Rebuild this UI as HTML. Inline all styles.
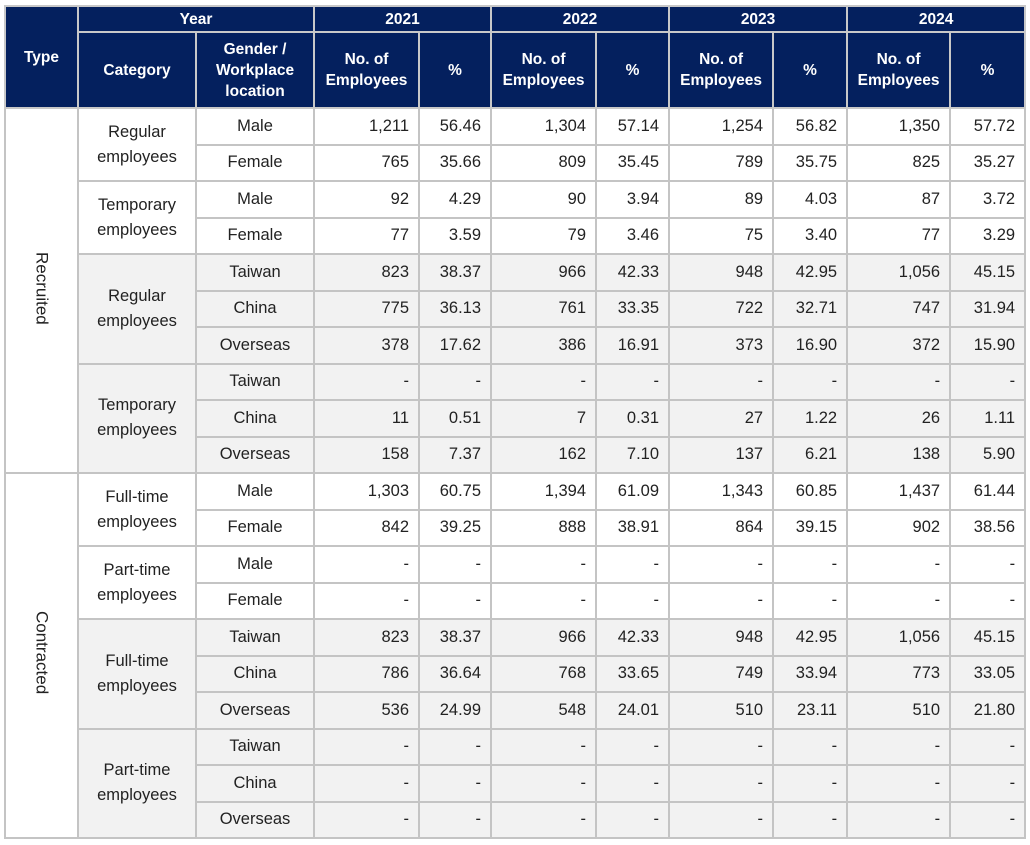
<!DOCTYPE html>
<html><head><meta charset="utf-8"><style>
html,body{margin:0;padding:0;background:#fff;width:1030px;height:845px;overflow:hidden}
table{position:absolute;left:4px;top:5px;border-collapse:collapse;table-layout:fixed;width:1020px;font-family:"Liberation Sans",sans-serif;font-size:16.5px;color:#222}
td,th{border:2px solid #c4c4c4;padding:0;overflow:hidden}
th{background:#04205e;color:#fff;font-weight:bold;font-size:15.5px;line-height:21px;border-color:#c8c8c8}
tr.b{height:36.5px}
td{text-align:center}
td.n{text-align:right;padding-right:9px}
.g{background:#f2f2f2}
.t{line-height:25px}
.v{writing-mode:vertical-rl;font-size:17px}
</style></head><body>
<table>
<colgroup><col style="width:73px"><col style="width:118px"><col style="width:118px"><col style="width:105px"><col style="width:72px"><col style="width:105px"><col style="width:73px"><col style="width:104px"><col style="width:74px"><col style="width:103px"><col style="width:75px"></colgroup>
<tr style="height:26px"><th rowspan="2">Type</th><th colspan="2">Year</th><th colspan="2">2021</th><th colspan="2">2022</th><th colspan="2">2023</th><th colspan="2">2024</th></tr>
<tr style="height:76px"><th>Category</th><th>Gender /<br>Workplace<br>location</th><th>No. of<br>Employees</th><th>%</th><th>No. of<br>Employees</th><th>%</th><th>No. of<br>Employees</th><th>%</th><th>No. of<br>Employees</th><th>%</th></tr>
<tr class="b"><td rowspan="10"><span class="v">Recruited</span></td><td rowspan="2" class="t">Regular<br>employees</td><td>Male</td><td class="n">1,211</td><td class="n">56.46</td><td class="n">1,304</td><td class="n">57.14</td><td class="n">1,254</td><td class="n">56.82</td><td class="n">1,350</td><td class="n">57.72</td></tr>
<tr class="b"><td>Female</td><td class="n">765</td><td class="n">35.66</td><td class="n">809</td><td class="n">35.45</td><td class="n">789</td><td class="n">35.75</td><td class="n">825</td><td class="n">35.27</td></tr>
<tr class="b"><td rowspan="2" class="t">Temporary<br>employees</td><td>Male</td><td class="n">92</td><td class="n">4.29</td><td class="n">90</td><td class="n">3.94</td><td class="n">89</td><td class="n">4.03</td><td class="n">87</td><td class="n">3.72</td></tr>
<tr class="b"><td>Female</td><td class="n">77</td><td class="n">3.59</td><td class="n">79</td><td class="n">3.46</td><td class="n">75</td><td class="n">3.40</td><td class="n">77</td><td class="n">3.29</td></tr>
<tr class="b g"><td rowspan="3" class="t">Regular<br>employees</td><td>Taiwan</td><td class="n">823</td><td class="n">38.37</td><td class="n">966</td><td class="n">42.33</td><td class="n">948</td><td class="n">42.95</td><td class="n">1,056</td><td class="n">45.15</td></tr>
<tr class="b g"><td>China</td><td class="n">775</td><td class="n">36.13</td><td class="n">761</td><td class="n">33.35</td><td class="n">722</td><td class="n">32.71</td><td class="n">747</td><td class="n">31.94</td></tr>
<tr class="b g"><td>Overseas</td><td class="n">378</td><td class="n">17.62</td><td class="n">386</td><td class="n">16.91</td><td class="n">373</td><td class="n">16.90</td><td class="n">372</td><td class="n">15.90</td></tr>
<tr class="b g"><td rowspan="3" class="t">Temporary<br>employees</td><td>Taiwan</td><td class="n">-</td><td class="n">-</td><td class="n">-</td><td class="n">-</td><td class="n">-</td><td class="n">-</td><td class="n">-</td><td class="n">-</td></tr>
<tr class="b g"><td>China</td><td class="n">11</td><td class="n">0.51</td><td class="n">7</td><td class="n">0.31</td><td class="n">27</td><td class="n">1.22</td><td class="n">26</td><td class="n">1.11</td></tr>
<tr class="b g"><td>Overseas</td><td class="n">158</td><td class="n">7.37</td><td class="n">162</td><td class="n">7.10</td><td class="n">137</td><td class="n">6.21</td><td class="n">138</td><td class="n">5.90</td></tr>
<tr class="b"><td rowspan="10" style="background:#fff"><span class="v">Contracted</span></td><td rowspan="2" class="t">Full-time<br>employees</td><td>Male</td><td class="n">1,303</td><td class="n">60.75</td><td class="n">1,394</td><td class="n">61.09</td><td class="n">1,343</td><td class="n">60.85</td><td class="n">1,437</td><td class="n">61.44</td></tr>
<tr class="b"><td>Female</td><td class="n">842</td><td class="n">39.25</td><td class="n">888</td><td class="n">38.91</td><td class="n">864</td><td class="n">39.15</td><td class="n">902</td><td class="n">38.56</td></tr>
<tr class="b"><td rowspan="2" class="t">Part-time<br>employees</td><td>Male</td><td class="n">-</td><td class="n">-</td><td class="n">-</td><td class="n">-</td><td class="n">-</td><td class="n">-</td><td class="n">-</td><td class="n">-</td></tr>
<tr class="b"><td>Female</td><td class="n">-</td><td class="n">-</td><td class="n">-</td><td class="n">-</td><td class="n">-</td><td class="n">-</td><td class="n">-</td><td class="n">-</td></tr>
<tr class="b g"><td rowspan="3" class="t">Full-time<br>employees</td><td>Taiwan</td><td class="n">823</td><td class="n">38.37</td><td class="n">966</td><td class="n">42.33</td><td class="n">948</td><td class="n">42.95</td><td class="n">1,056</td><td class="n">45.15</td></tr>
<tr class="b g"><td>China</td><td class="n">786</td><td class="n">36.64</td><td class="n">768</td><td class="n">33.65</td><td class="n">749</td><td class="n">33.94</td><td class="n">773</td><td class="n">33.05</td></tr>
<tr class="b g"><td>Overseas</td><td class="n">536</td><td class="n">24.99</td><td class="n">548</td><td class="n">24.01</td><td class="n">510</td><td class="n">23.11</td><td class="n">510</td><td class="n">21.80</td></tr>
<tr class="b g"><td rowspan="3" class="t">Part-time<br>employees</td><td>Taiwan</td><td class="n">-</td><td class="n">-</td><td class="n">-</td><td class="n">-</td><td class="n">-</td><td class="n">-</td><td class="n">-</td><td class="n">-</td></tr>
<tr class="b g"><td>China</td><td class="n">-</td><td class="n">-</td><td class="n">-</td><td class="n">-</td><td class="n">-</td><td class="n">-</td><td class="n">-</td><td class="n">-</td></tr>
<tr class="b g"><td>Overseas</td><td class="n">-</td><td class="n">-</td><td class="n">-</td><td class="n">-</td><td class="n">-</td><td class="n">-</td><td class="n">-</td><td class="n">-</td></tr>
</table>
</body></html>
